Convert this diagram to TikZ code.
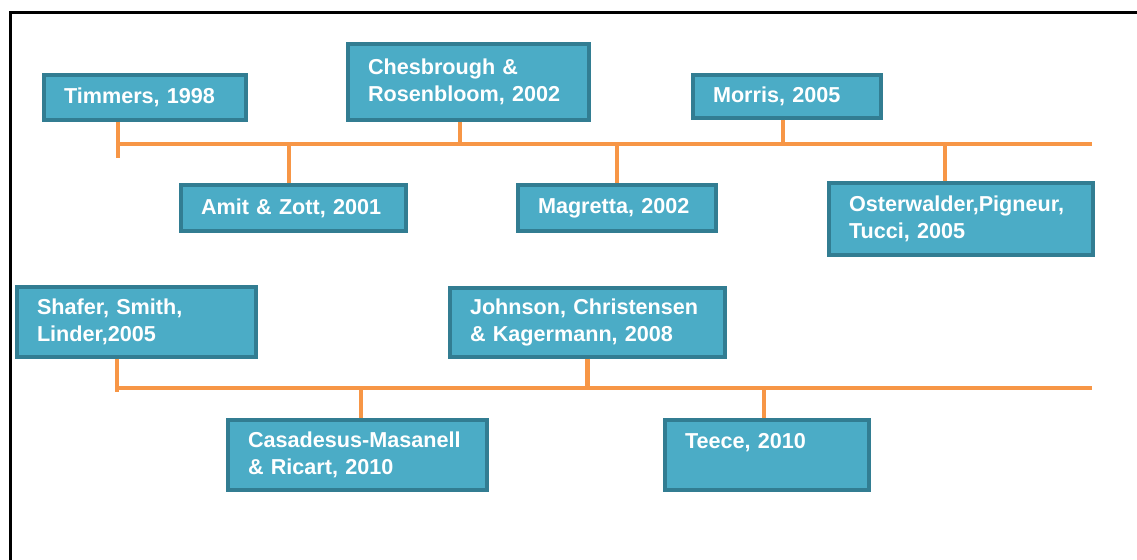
\documentclass[tikz,border=0pt]{standalone}
\usepackage{fontspec}
\setmainfont{Liberation Sans}
\usetikzlibrary{positioning}
\definecolor{refblue}{RGB}{75, 172, 198}
\definecolor{refedge}{RGB}{50, 125, 146}
\definecolor{lineorange}{RGB}{247, 150, 70}

\begin{document}
\begin{tikzpicture}[
    ref/.style={rectangle, draw=refedge, fill=refblue, line width=1.8pt, align=left, inner xsep=0.4cm, inner ysep=0pt, text=white, font=\fontsize{12.3}{15}\selectfont\bfseries},
    tl/.style={draw=lineorange, line width=2.3pt},
    frame/.style={draw=black, line width=1.7pt},
]
\useasboundingbox (0,0) rectangle (22.74,-11.2);

% Frame
\draw[frame] (0.21,-11.2) -- (0.21,-0.25) -- (22.74,-0.25);

% First timeline
\node[ref, text width=3.24cm, minimum height=0.9cm] (timmers) at (2.9,-1.95) {Timmers, 1998};
\node[ref, text width=4.02cm, minimum height=1.52cm] (chesbrough) at (9.37,-1.64) {Chesbrough \&\\Rosenbloom, 2002};
\node[ref, text width=2.96cm, minimum height=0.86cm] (morris) at (15.74,-1.93) {Morris, 2005};
\node[ref, text width=3.7cm, minimum height=0.92cm] (amit) at (5.87,-4.16) {Amit \& Zott, 2001};
\node[ref, text width=3.16cm, minimum height=0.92cm] (magretta) at (12.34,-4.16) {Magretta, 2002};
\node[ref, text width=4.48cm, minimum height=1.44cm] (osterwalder) at (19.22,-4.38) {Osterwalder,Pigneur,\\Tucci, 2005};

\coordinate (a0) at (2.36,-3.16);
\coordinate (a1) at (2.36,-2.88);
\coordinate (a2) at (21.84,-2.88);
\draw[tl] (a1) -- (a2);
\draw[tl] (timmers.south -| a0) -- (a0);
\draw[tl] ([xshift=-0.17cm]chesbrough.south) -- ([xshift=-0.17cm]chesbrough.south |- a1);
\draw[tl] ([xshift=-0.08cm]morris.south) -- ([xshift=-0.08cm]morris.south |- a1);
\draw[tl] ([xshift=-0.09cm]amit.north) -- ([xshift=-0.09cm]amit.north |- a1);
\draw[tl] (magretta.north) -- (magretta.north |- a1);
\draw[tl] ([xshift=-0.32cm]osterwalder.north) -- ([xshift=-0.32cm]osterwalder.north |- a1);

% Second timeline
\node[ref, text width=3.98cm, minimum height=1.4cm] (shafer) at (2.73,-6.44) {Shafer, Smith,\\Linder,2005};
\node[ref, text width=4.7cm, minimum height=1.38cm] (johnson) at (11.75,-6.45) {Johnson, Christensen\\\& Kagermann, 2008};
\node[ref, text width=4.38cm, minimum height=1.4cm] (casadesus) at (7.15,-9.1) {Casadesus-Masanell\\\& Ricart, 2010};
\node[ref, text width=3.28cm, minimum height=1.4cm] (teece) at (15.34,-9.1) {Teece, 2010\\[-4pt]\strut};

\coordinate (b0) at (2.34,-7.84);
\coordinate (b1) at (2.34,-7.76);
\coordinate (b2) at (21.84,-7.76);
\draw[tl] (b1) -- (b2);
\draw[tl] (shafer.south -| b0) -- (b0);
\draw[tl] (johnson.south) -- (johnson.south |- b1);
\draw[tl] ([xshift=0.07cm]casadesus.north) -- ([xshift=0.07cm]casadesus.north |- b1);
\draw[tl] ([xshift=-0.06cm]teece.north) -- ([xshift=-0.06cm]teece.north |- b1);

\end{tikzpicture}
\end{document}
